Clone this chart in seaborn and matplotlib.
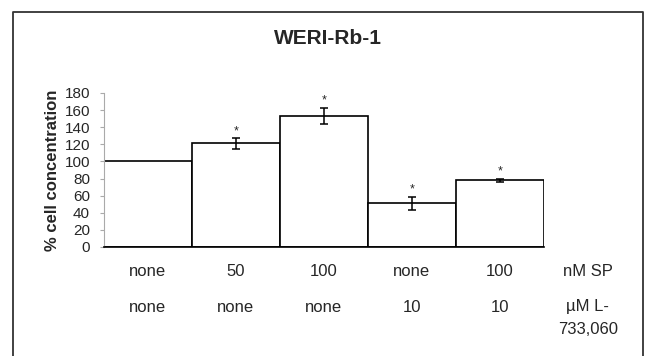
import matplotlib
matplotlib.use("Agg")
import matplotlib.pyplot as plt
import matplotlib.transforms as mtransforms
from matplotlib.lines import Line2D
import seaborn as sns
import pandas as pd

# data
treatments = ["ctrl", "sp50", "sp100", "l733", "sp100_l733"]
cell_conc = [100, 121, 153, 51, 78]
sem = [0, 6, 9.5, 7.5, 2]
significant = [False, True, True, True, True]
sp_labels = ["none", "50", "100", "none", "100"]
antag_labels = ["none", "none", "none", "10", "10"]
y_ticks = [0, 20, 40, 60, 80, 100, 120, 140, 160, 180]

sns.set_style("white")
plt.rcParams["font.family"] = ["Liberation Sans", "DejaVu Sans"]

df = pd.DataFrame({"treatment": treatments, "value": cell_conc})

fig = plt.figure(figsize=(6.47, 3.56), dpi=100)
ax = fig.add_axes([0.1607, 0.3062, 0.68, 0.4326])

sns.barplot(data=df, x="treatment", y="value", width=1.0, color="white",
            edgecolor="black", linewidth=1.2, ax=ax)

pos = list(range(len(treatments)))
ax.errorbar([p for p, e in zip(pos, sem) if e > 0],
            [v for v, e in zip(cell_conc, sem) if e > 0],
            yerr=[e for e in sem if e > 0], fmt="none", ecolor="black",
            elinewidth=1.1, capsize=3, capthick=1.1)

for p, v, e, s in zip(pos, cell_conc, sem, significant):
    if s:
        ax.annotate("*", (p, v + e), xytext=(0, 1), textcoords="offset points",
                    ha="center", va="bottom", fontsize=9)

ax.set_xlim(-0.5, 4.5)
ax.set_ylim(0, 180)
ax.set_yticks(y_ticks)
ax.tick_params(axis="y", labelsize=11, length=3, width=0.8, color="#aaaaaa",
               pad=7, left=True)
ax.set_xticks([])
ax.set_xlabel("")
ax.set_ylabel("% cell concentration", fontsize=12, fontweight="bold", labelpad=3)

for side in ["top", "right"]:
    ax.spines[side].set_visible(False)
ax.spines["left"].set_color("#aaaaaa")
ax.spines["left"].set_linewidth(0.8)
ax.spines["bottom"].set_color("black")
ax.spines["bottom"].set_linewidth(1.2)

# condition rows under the bars
trans = mtransforms.blended_transform_factory(ax.transData, fig.transFigure)
row1, row2, row3 = 1 - 272 / 356, 1 - 307 / 356, 1 - 329 / 356
for p, a, b in zip(pos, sp_labels, antag_labels):
    ax.text(p, row1, a, transform=trans, ha="center", va="center", fontsize=12)
    ax.text(p, row2, b, transform=trans, ha="center", va="center", fontsize=12)
ax.text(5, row1, "nM SP", transform=trans, ha="center", va="center", fontsize=12)
ax.text(5, row2, "\u00b5M L-", transform=trans, ha="center", va="center", fontsize=12)
ax.text(5, row3, "733,060", transform=trans, ha="center", va="center", fontsize=12)

fig.text(328 / 647, 1 - 38 / 356, "WERI-Rb-1", ha="center", va="center",
         fontsize=15, fontweight="bold")

# outer frame (cut off at the bottom)
fx0, fx1, fy = 13 / 647, 643 / 647, 1 - 12 / 356
fig.add_artist(Line2D([fx0, fx0, fx1, fx1], [0, fy, fy, 0], color="#333333",
                      linewidth=1.3, transform=fig.transFigure))

fig.savefig("out.png", dpi=100)
